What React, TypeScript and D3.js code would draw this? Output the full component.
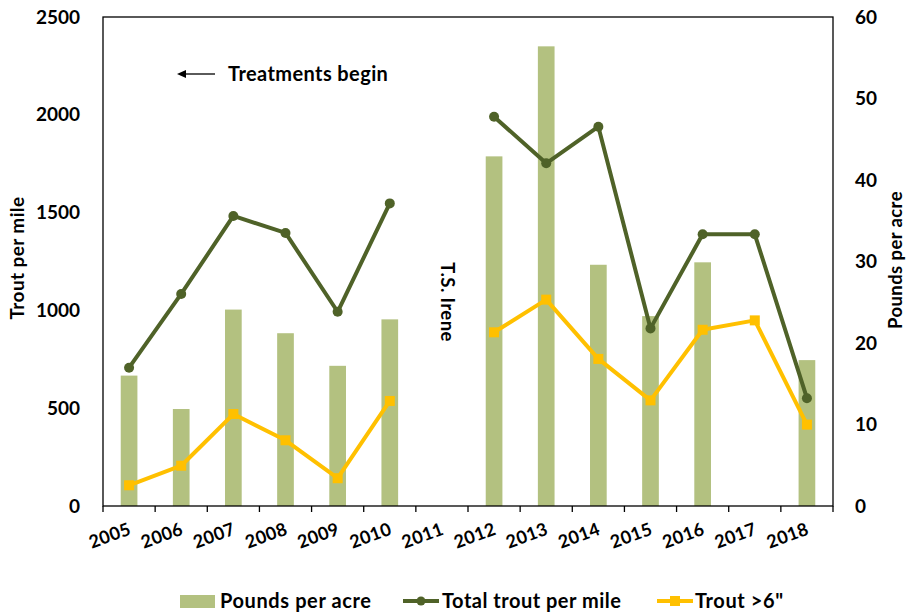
import React from "react";
import * as d3 from "d3";

const years = ["2005","2006","2007","2008","2009","2010","2011","2012","2013","2014","2015","2016","2017","2018"];
const poundsPerAcre: (number | null)[] = [16.0, 11.9, 24.1, 21.2, 17.2, 22.9, null, 42.9, 56.4, 29.6, 23.3, 29.9, null, 17.9];
const totalTrout: (number | null)[] = [707, 1084, 1483, 1396, 993, 1547, null, 1990, 1752, 1939, 908, 1389, 1389, 551];
const trout6: (number | null)[] = [106, 206, 470, 336, 142, 537, null, 888, 1055, 752, 540, 901, 949, 416];
const leftTicks = [0, 500, 1000, 1500, 2000, 2500];
const rightTicks = [0, 10, 20, 30, 40, 50, 60];

const W = 906, H = 613;
const M = { left: 103, right: 833, top: 17, bottom: 506 };
const FONT = "Lato, 'Open Sans', sans-serif";
const BAR = "#B3C180";
const DARK = "#4F6228";
const YEL = "#FFC000";

export default function App() {
  const x = d3.scaleBand<string>().domain(years).range([M.left, M.right]).padding(0);
  const yL = d3.scaleLinear().domain([0, 2500]).range([M.bottom, M.top]);
  const yR = d3.scaleLinear().domain([0, 60]).range([M.bottom, M.top]);
  const bw = x.bandwidth() * 0.32;
  const cx = (y: string) => (x(y) as number) + x.bandwidth() / 2;

  const mk = (vals: (number | null)[]) =>
    d3.line<number>()
      .defined((i) => vals[i] !== null)
      .x((i) => cx(years[i]))
      .y((i) => yL(vals[i] as number))(years.map((_, i) => i)) as string;

  const boundaries = years.map((y) => x(y) as number).concat([M.right]);

  return (
    <svg width={W} height={H} style={{ position: "absolute", left: 0, top: 0, fontFamily: FONT }}>
      <rect x={0} y={0} width={W} height={H} fill="#fff" />
      {/* bars */}
      {years.map((y, i) =>
        poundsPerAcre[i] === null ? null : (
          <rect key={y} x={cx(y) - bw / 2} y={yR(poundsPerAcre[i] as number)} width={bw}
            height={M.bottom - yR(poundsPerAcre[i] as number)} fill={BAR} />
        )
      )}
      {/* frame */}
      <rect x={M.left} y={M.top} width={M.right - M.left} height={M.bottom - M.top} fill="none" stroke="#000" strokeWidth={1.3} />
      {boundaries.map((b, i) => (
        <line key={i} x1={b} x2={b} y1={M.bottom} y2={M.bottom + 6} stroke="#000" strokeWidth={1.3} />
      ))}
      {/* lines */}
      <path d={mk(totalTrout)} fill="none" stroke={DARK} strokeWidth={4} strokeLinejoin="round" />
      {years.map((y, i) => totalTrout[i] === null ? null : (
        <circle key={y} cx={cx(y)} cy={yL(totalTrout[i] as number)} r={5} fill={DARK} />
      ))}
      <path d={mk(trout6)} fill="none" stroke={YEL} strokeWidth={4} strokeLinejoin="round" />
      {years.map((y, i) => trout6[i] === null ? null : (
        <rect key={y} x={cx(y) - 5} y={yL(trout6[i] as number) - 5} width={10} height={10} fill={YEL} />
      ))}
      {/* left ticks */}
      {leftTicks.map((t) => (
        <text key={t} x={80} y={yL(t)} dy="0.35em" textAnchor="end" fontSize={19} fontWeight="bold">{t}</text>
      ))}
      {rightTicks.map((t) => (
        <text key={t} x={855} y={yR(t)} dy="0.35em" textAnchor="start" fontSize={19} fontWeight="bold">{t}</text>
      ))}
      {/* year labels */}
      {years.map((y) => (
        <text key={y} transform={`translate(${cx(y) + 3},${M.bottom + 28}) rotate(-20)`} textAnchor="end"
          fontSize={18} fontWeight="bold" letterSpacing={0.3}>{y}</text>
      ))}
      {/* axis titles */}
      <text transform={`translate(24,258) rotate(-90)`} textAnchor="middle" fontSize={19} fontWeight="bold" letterSpacing={0.4}>Trout per mile</text>
      <text transform={`translate(902,260) rotate(-90)`} textAnchor="middle" fontSize={18.5} fontWeight="bold" letterSpacing={0.4}>Pounds per acre</text>
      {/* annotations */}
      <text transform={`translate(441,302) rotate(90)`} textAnchor="middle" fontSize={18.5} fontWeight="bold" letterSpacing={0.4}>T.S. Irene</text>
      <line x1={184} x2={215} y1={74} y2={74} stroke="#000" strokeWidth={1.3} />
      <path d="M177,74 L186,70 L186,78 Z" fill="#000" />
      <text x={228} y={81} fontSize={20} fontWeight="bold" letterSpacing={0.4}>Treatments begin</text>
      {/* legend */}
      <rect x={180} y={595} width={35} height={13} fill={BAR} />
      <text x={220} y={608} fontSize={20} fontWeight="bold" letterSpacing={0.6}>Pounds per acre</text>
      <line x1={403} x2={439} y1={601} y2={601} stroke={DARK} strokeWidth={4} />
      <circle cx={421} cy={601} r={4.5} fill={DARK} />
      <text x={442} y={608} fontSize={20} fontWeight="bold" letterSpacing={0.5}>Total trout per mile</text>
      <line x1={657} x2={693} y1={601} y2={601} stroke={YEL} strokeWidth={4} />
      <rect x={670} y={596} width={10} height={10} fill={YEL} />
      <text x={695} y={608} fontSize={20} fontWeight="bold" letterSpacing={0.6}>Trout &gt;6"</text>
    </svg>
  );
}
